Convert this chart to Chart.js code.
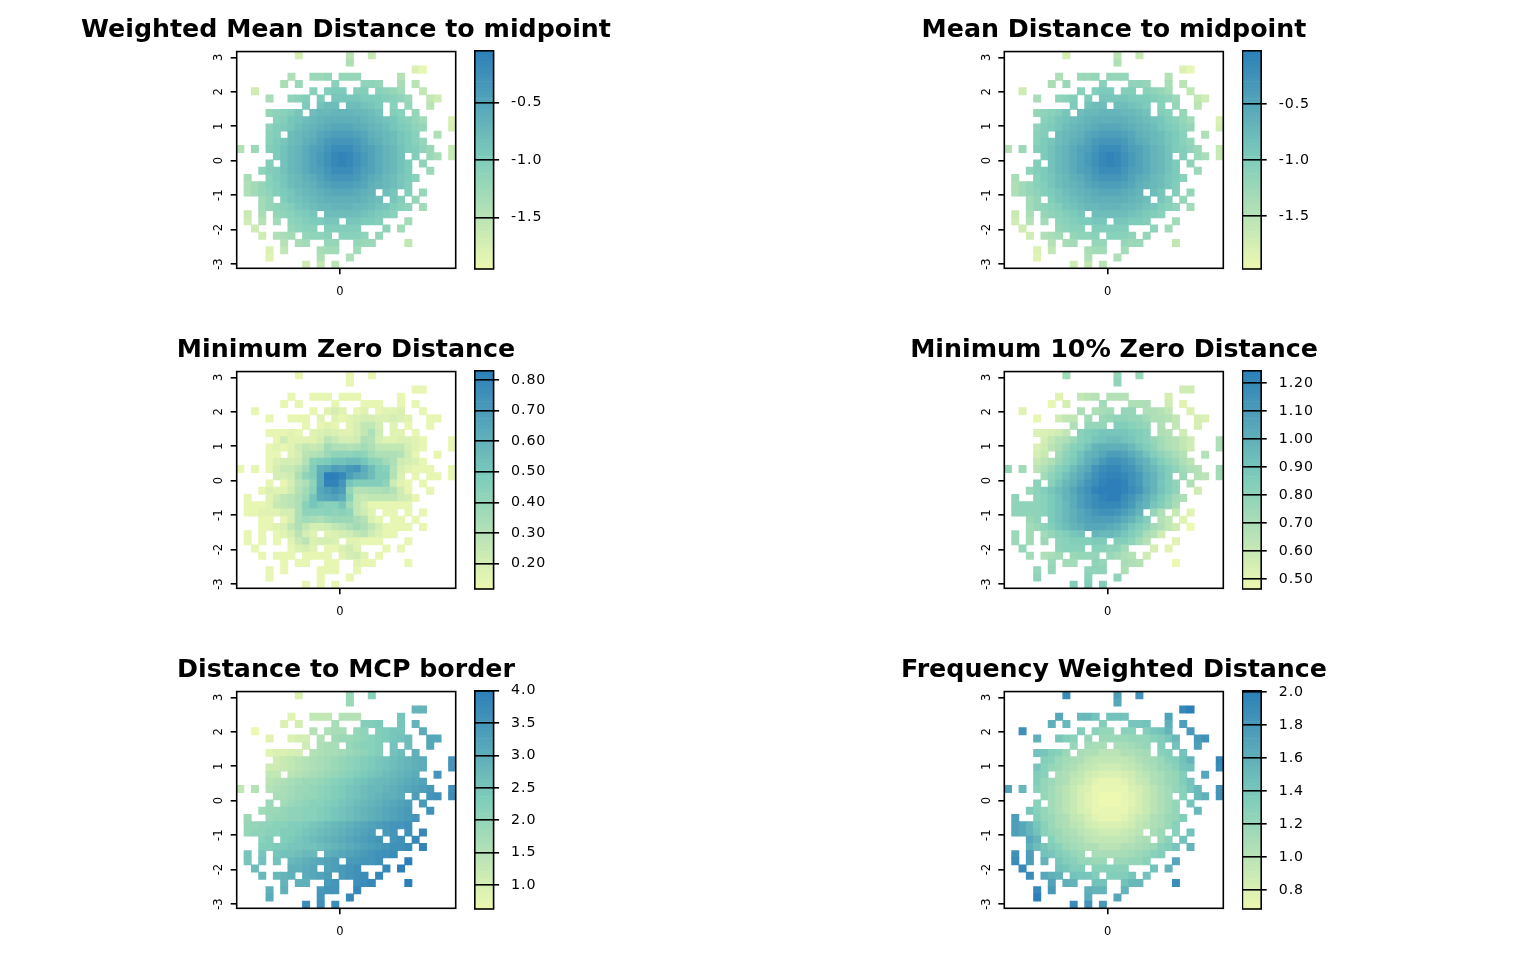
<!DOCTYPE html>
<html>
<head>
<meta charset="utf-8">
<style>
  html, body { margin: 0; padding: 0; background: #fff; }
  body { position: relative; width: 1536px; height: 960px; overflow: hidden; }
  canvas { position: absolute; }
</style>
<script src="https://cdn.jsdelivr.net/npm/chart.js@4/dist/chart.umd.js"></script>
</head>
<body>
<script>
// cell centres of the 30 x 30 grid, columns left to right, rows top to bottom
const xCells = [-2.892,-2.680,-2.468,-2.256,-2.044,-1.832,-1.620,-1.408,-1.196,-0.984,-0.772,-0.560,-0.348,-0.136,0.076,0.287,0.499,0.711,0.923,1.135,1.347,1.559,1.771,1.983,2.195,2.407,2.619,2.831,3.043,3.255];
const yCells = [3.062,2.853,2.643,2.433,2.224,2.014,1.804,1.594,1.385,1.175,0.965,0.756,0.546,0.336,0.126,-0.083,-0.293,-0.503,-0.713,-0.922,-1.132,-1.342,-1.551,-1.761,-1.971,-2.181,-2.390,-2.600,-2.810,-3.019];
const xTicks = [0];
const yTicks = [-3, -2, -1, 0, 1, 2, 3];

// one character per cell: '.' is no data, 0-9a-z is the step (0..35) along that panel's colour bar
const weightedRows = [
  "........4......8..6...........",
  "...............a..............",
  "........................31....",
  ".......a..dde.eee.....9.......",
  "......b.d....g...ffe..b.8.....",
  "..5.......g.hii.hh.gfec..7....",
  "....b..fgh.i.jjjjiiihgfd..75..",
  ".........i.kll.llkji.g.e..8...",
  "....efghj.lmmnnnmmlk.hg.e.....",
  ".....ghjklmnooooonmlkjhgec...3",
  "....fhijlmnopqqqponmljihfe...4",
  "....gh.lmnoqrsssrqonmljig..a..",
  "....gijlmoprtuuutrpomljige....",
  "9.d.hikmnprsuwwwusrpnmkihfd..6",
  ".....ikmnprtvxyxvtrpnmk.h.db.6",
  "....h.kmnprtvxyxvtrpnmki.f....",
  "...fhikmnprsuwwwusrpnmki..d...",
  ".b..gijlmoprtuuutrpomljig.....",
  ".aceghjlmnoqrsssrqonmljh......",
  ".acefhijlmnopqqqpon.lj.h.e....",
  "...ce.hjklmnooooonml.jh.e.....",
  "...cefghjklmmnnnmmlkjhgf.c....",
  ".6.b.efghij.lllllkjihg........",
  ".5.9.c.fghiijj.jjiih...c......",
  "..5....efgg.hhhhh...f.c.......",
  "...5.abc.effg.gggf.e..........",
  "......9.bc..ee..edd....7......",
  "....3.7....bcc..c.............",
  "....2......a...a..............",
  ".........5.7.8................"
];
const meanRows = [
  "........4......8..6...........",
  "...............a..............",
  "........................31....",
  ".......a..dde.eee.....9.......",
  "......b.d....g...ffe..b.8.....",
  "..5.......g.hii.hh.gfec..7....",
  "....b..fgh.i.jjjjiiihgfd..75..",
  ".........i.kll.llkji.g.e..8...",
  "....efghj.lmmnnnmmlk.hg.e.....",
  ".....ghjklmnooooonmlkjhgec...3",
  "....fhijlmnopqqqponmljihfe...4",
  "....gh.lmnoqrsssrqonmljig..a..",
  "....gijlmoprtuuutrpomljige....",
  "9.d.hikmnprsuwwwusrpnmkihfd..6",
  ".....ikmnprtvxyxvtrpnmk.h.db.6",
  "....h.kmnprtvxyxvtrpnmki.f....",
  "...fhikmnprsuwwwusrpnmki..d...",
  ".b..gijlmoprtuuutrpomljig.....",
  ".aceghjlmnoqrsssrqonmljh......",
  ".acefhijlmnopqqqpon.lj.h.e....",
  "...ce.hjklmnooooonml.jh.e.....",
  "...cefghjklmmnnnmmlkjhgf.c....",
  ".6.b.efghij.lllllkjihg........",
  ".5.9.c.fghiijj.jjiih...c......",
  "..5....efgg.hhhhh...f.c.......",
  "...5.abc.effg.gggf.e..........",
  "......9.bc..ee..edd....7......",
  "....3.7....bcc..c.............",
  "....2......a...a..............",
  ".........5.7.8................"
];
const minZeroRows = [
  "........1......1..1...........",
  "...............1..............",
  "........................11....",
  ".......1..111.111.....1.......",
  "......1.1....1...111..1.1.....",
  "..1.......1.242.12.1223..1....",
  "....1..111.2.21234433432..11..",
  ".........1.121.24774.2.1..1...",
  "....11121.23432247a5.22.1.....",
  ".....152222486445a94223321...1",
  "....12125767caa9aca7777421...1",
  "....11.2489adfffgfcaaa951..1..",
  "....134459ghikklljgfca5431....",
  "1.1.14668chopsrtuplhg942111..1",
  ".....445afhpzzxspolhh93.1.11.1",
  "....1.148afpyyujhhhhf521.1....",
  "...132259cgqsuse99aab951..1...",
  ".1..2578adjpqrpg767777541.....",
  ".1112678agjhggjc74111111......",
  ".1122244afffgfgf752.11.1.1....",
  "...11.14acbacdddb931.11.1.....",
  "...11237a744578aca741111.1....",
  ".1.1.124842.2345785311........",
  ".1.1.1.2683443.22111...1......",
  "..1....1342.11352...1.1.......",
  "...1.111.1111.2452.1..........",
  "......1.11..11..211....1......",
  "....1.1....111..1.............",
  "....1......1...1..............",
  ".........1.1.1................"
];
const minTenRows = [
  "........c......e..d...........",
  "...............f..............",
  "........................55....",
  ".......2..789.999.....4.......",
  "......1.4....c...aaa..5.2.....",
  "..2.......a.abc.ee.aa97..3....",
  "....1..577.c.deffeecaa97..43..",
  ".........a.eee.hhgfe.a.7..4...",
  "....33457.ghijjjjihg.a9.5.....",
  ".....479adghjkllkjhgeca975...a",
  "....358adghknoooomjhfca975...a",
  "....46.cfhknoqssrpnkhfdb9..9..",
  "....68adgiloqtvvuspnkhfda8....",
  "e.c.8adgiloquwxxvuromjhfca9..c",
  ".....cfhknpsvxyyxvtpnkh.d.98.c",
  "....g.gjmoruwyzzyvtpnjhf.a....",
  "...dfhjlnqtvyzzzywuqnkhf..5...",
  ".f..fgiknpsuwyzzwurolifca.....",
  ".ffffgikmpsuwxxxvtpnjheb......",
  ".ffffgikmoqsuvvusqn.ea.6.2....",
  "...df.ikmoqrsssrpnkh.97.2.....",
  "...cdfhjlnoqqqpomjhfca75.0....",
  ".d.c.ceghjk.nmmljhfb95........",
  ".d.c.d.fghhhii.hhfc9...2......",
  "..e....fggg.ggffc...4.2.......",
  "...c.abc.deee.dca9.5..........",
  "......d.cc..fe..ba9....0......",
  "....e.e....fff..a.............",
  "....f......g...f..............",
  ".........h.h.h................"
];
const mcpRows = [
  "........3......d..g...........",
  "...............d..............",
  "........................nn....",
  ".......2..777.999.....j.......",
  "......3.4....b...hhi..j.n.....",
  "..0.......9.abb.ef.hijj..p....",
  "....2..344.9.cddefghijkl..qq..",
  ".........5.abb.efggh.k.l..q...",
  "....23344.9abbcdefgh.kl.o.....",
  ".....56789abcdefghijklmnop...u",
  "....556789abcdefghijklmnop...u",
  "....77.89abcdefghijklmnop..u..",
  "....89abcddefghijklmmnopqr....",
  "7.9.9abcddefghijklmmnopqrst..v",
  ".....bbcdeefghijklmnoop.s.uv.w",
  "....d.cdefgghijklmnopqrs.t....",
  "...cddeffgghijklmnopqrst..v...",
  ".d..deeffgghijklmnopqrstu.....",
  ".eeffgghhijklmnopqrstuuv......",
  ".effgghhijklmnopqrs.tu.v.x....",
  "...gh.hijklmnopqrstu.uv.x.....",
  "...hhiijjkklmnopqrstuvvw.y....",
  ".j.j.jkklmm.opqrstuvvw........",
  ".j.k.k.mnopqrs.ttuuv...z......",
  "..l....oopq.rstuv...x.z.......",
  "...m.mno.pqrs.tuvw.x..........",
  "......n.oo..tu..vwx....z......",
  "....o.o....tuu..x.............",
  "....p......u...x..............",
  ".........w.v.w................"
];
const freqRows = [
  "........w......s..u...........",
  "...............q..............",
  "........................xz....",
  ".......q..mmk.kkk.....r.......",
  "......o.m....h...jjk..o.s.....",
  "..v.......h.gee.gg.hjkn..t....",
  "....o..jhg.e.ddddeeeghjm..tv..",
  ".........e.cbb.bbcde.h.k..s...",
  "....kjhgd.baa888aabc.gh.k.....",
  ".....hgdcba8777778abcdghkn...x",
  "....jgedba876555678abdegjk...w",
  "....hg.ba87543334578abdeh..q..",
  "....hedba76421112467abdehk....",
  "r.m.geca8643111113468acegjm..u",
  ".....eca8642100012468ac.g.mo.u",
  "....g.ca8642100012468ace.j....",
  "...jgeca8643111113468ace..m...",
  ".s..hedba76421112467abdeh.....",
  ".sqnjgdba87543334578abdg......",
  ".sqnkgedba876555678.bd.g.k....",
  "...qn.gdcba8777778ab.dg.k.....",
  "...oljhgdcbaa888aabcdghj.n....",
  ".v.s.kjhged.bbbbbcdegh........",
  ".w.s.n.jhgeedd.ddeeg...q......",
  "..x....kjhh.ggggg...k.n.......",
  "...w.qon.kjjh.hhhj.k..........",
  "......r.on..kk..kmm....w......",
  "....x.t....onn..n.............",
  "....z......p...q..............",
  ".........w.u.t................"
];

// colour bar ends and tick labels
const weightedRange = [-1.946, -0.05];
const weightedTicks = [-0.5, -1.0, -1.5];
const meanRange = [-1.973, -0.027];
const meanTicks = [-0.5, -1.0, -1.5];
const minZeroRange = [0.117, 0.83];
const minZeroTicks = [0.2, 0.3, 0.4, 0.5, 0.6, 0.7, 0.8];
const minTenRange = [0.464, 1.243];
const minTenTicks = [0.5, 0.6, 0.7, 0.8, 0.9, 1.0, 1.1, 1.2];
const mcpRange = [0.629, 4.0];
const mcpTicks = [1.0, 1.5, 2.0, 2.5, 3.0, 3.5, 4.0];
const freqRange = [0.685, 2.008];
const freqTicks = [0.8, 1.0, 1.2, 1.4, 1.6, 1.8, 2.0];

const panels = [
  { title: 'Weighted Mean Distance to midpoint', rows: weightedRows, range: weightedRange, ticks: weightedTicks, digits: 1, col: 0, row: 0 },
  { title: 'Mean Distance to midpoint', rows: meanRows, range: meanRange, ticks: meanTicks, digits: 1, col: 1, row: 0 },
  { title: 'Minimum Zero Distance', rows: minZeroRows, range: minZeroRange, ticks: minZeroTicks, digits: 2, col: 0, row: 1 },
  { title: 'Minimum 10% Zero Distance', rows: minTenRows, range: minTenRange, ticks: minTenTicks, digits: 2, col: 1, row: 1 },
  { title: 'Distance to MCP border', rows: mcpRows, range: mcpRange, ticks: mcpTicks, digits: 1, col: 0, row: 2 },
  { title: 'Frequency Weighted Distance', rows: freqRows, range: freqRange, ticks: freqTicks, digits: 1, col: 1, row: 2 }
];

const LEVELS = 35;
const BAR_BANDS = 64;
const RAMP = [[237, 248, 177], [127, 205, 187], [44, 127, 184]];
const TICK_COLOR = '#000';
const FONT = 'DejaVu Sans';
const LINE = 1.6;

function rampColor(t) {
  const f = Math.min(1, Math.max(0, t)) * 2;
  const i = Math.min(1, Math.floor(f));
  const c = RAMP[i].map((v, k) => Math.round(v + (RAMP[i + 1][k] - v) * (f - i)));
  return `rgb(${c[0]},${c[1]},${c[2]})`;
}

function cellPoints(panel) {
  const [lo, hi] = panel.range;
  const points = [];
  panel.rows.forEach((line, r) => {
    [...line].forEach((ch, c) => {
      if (ch === '.') return;
      const value = lo + (parseInt(ch, 36) / LEVELS) * (hi - lo);
      points.push({ x: xCells[c], y: yCells[r], v: value });
    });
  });
  return points;
}

const boxPlugin = {
  id: 'box',
  afterDraw(chart) {
    const { ctx, chartArea: a } = chart;
    ctx.save();
    ctx.strokeStyle = '#000';
    ctx.lineWidth = LINE;
    ctx.strokeRect(a.left, a.top, a.right - a.left, a.bottom - a.top);
    ctx.restore();
  }
};

// the reference's tick labels are set a little wider than the font's own spacing
const spacingPlugin = {
  id: 'spacing',
  beforeDraw(chart) {
    chart.ctx.letterSpacing = '0.9px';
  }
};

function addCanvas(left, top, width, height) {
  const canvas = document.createElement('canvas');
  canvas.width = width;
  canvas.height = height;
  canvas.style.left = left + 'px';
  canvas.style.top = top + 'px';
  canvas.style.width = width + 'px';
  canvas.style.height = height + 'px';
  document.body.appendChild(canvas);
  return canvas.getContext('2d');
}

function drawHeatmap(panel) {
  const ctx = addCanvas(panel.col ? 768 : 0, panel.row * 320, 692, 320);
  const [lo, hi] = panel.range;
  new Chart(ctx, {
    type: 'scatter',
    data: {
      datasets: [{
        data: cellPoints(panel),
        pointStyle: 'rect',
        borderWidth: 0,
        backgroundColor: (c) => rampColor((c.raw.v - lo) / (hi - lo)),
        pointRadius: (c) => {
          const s = c.chart.scales.x;
          return (Math.abs(s.getPixelForValue(xCells[1]) - s.getPixelForValue(xCells[0])) + 0.7) / Math.SQRT2;
        }
      }]
    },
    options: {
      responsive: false,
      animation: false,
      events: [],
      layout: { padding: 0 },
      plugins: {
        legend: { display: false },
        tooltip: { enabled: false },
        title: {
          display: true,
          text: panel.title,
          color: '#000',
          font: { family: FONT, size: 25.3, weight: 'bold', lineHeight: 1.2 },
          padding: { top: 14.8, bottom: 6.4 }
        }
      },
      scales: {
        x: {
          type: 'linear',
          min: -2.998,
          max: 3.358,
          afterFit: (s) => { s.height = 51.7; },
          afterBuildTicks: (s) => { s.ticks = xTicks.map(v => ({ value: v })); },
          border: { display: false },
          grid: { drawOnChartArea: false, color: '#000', lineWidth: LINE, tickLength: 6 },
          ticks: { color: TICK_COLOR, font: { family: FONT, size: 11.5 }, padding: 11, maxRotation: 0, minRotation: 0, callback: (v) => String(v) }
        },
        y: {
          type: 'linear',
          min: -3.123,
          max: 3.167,
          afterFit: (s) => { s.width = panel.col ? 236.3 : 236.7; },
          afterBuildTicks: (s) => { s.ticks = yTicks.map(v => ({ value: v })); },
          border: { display: false },
          grid: { drawOnChartArea: false, color: '#000', lineWidth: LINE, tickLength: 6 },
          ticks: { color: TICK_COLOR, font: { family: FONT, size: 11.5 }, padding: 6, minRotation: 90, crossAlign: 'center', callback: (v) => String(v) }
        },
        // empty axis that only keeps the plot off the title's right half
        spacer: {
          type: 'linear',
          position: 'right',
          afterFit: (s) => { s.width = panel.col ? 236.7 : 236.3; },
          border: { display: false },
          grid: { display: false },
          ticks: { display: false }
        }
      }
    },
    plugins: [boxPlugin]
  });
}

function drawColorBar(panel) {
  const left = panel.col ? 1242.4 : 474.8;
  const barWidth = 18.8;
  const canvasLeft = Math.floor(left);
  const ctx = addCanvas(canvasLeft, panel.row * 320, 100, 320);
  const [lo, hi] = panel.range;
  const datasets = [];
  for (let i = 0; i < BAR_BANDS; i++) {
    datasets.push({
      data: [[lo + (hi - lo) * i / BAR_BANDS, lo + (hi - lo) * (i + 1) / BAR_BANDS]],
      backgroundColor: rampColor((i + 0.5) / BAR_BANDS),
      grouped: false,
      barPercentage: 1,
      categoryPercentage: 1
    });
  }
  new Chart(ctx, {
    type: 'bar',
    data: { labels: [''], datasets },
    options: {
      responsive: false,
      animation: false,
      events: [],
      layout: { padding: { left: left - canvasLeft, right: 0, top: 50.8, bottom: 51 } },
      plugins: { legend: { display: false }, tooltip: { enabled: false }, title: { display: false } },
      scales: {
        x: { display: false },
        y: {
          position: 'right',
          min: lo,
          max: hi,
          afterFit: (s) => { s.width = 100 - (left - canvasLeft) - barWidth; },
          afterBuildTicks: (s) => { s.ticks = panel.ticks.map(v => ({ value: v })); },
          border: { display: false },
          grid: { color: '#000', lineWidth: LINE, tickLength: 5.5, z: 1 },
          ticks: { color: TICK_COLOR, font: { family: FONT, size: 14.2 }, padding: 12, callback: (v) => v.toFixed(panel.digits) }
        }
      }
    },
    plugins: [boxPlugin, spacingPlugin]
  });
}

panels.forEach(p => {
  drawHeatmap(p);
  drawColorBar(p);
});
</script>
</body>
</html>
